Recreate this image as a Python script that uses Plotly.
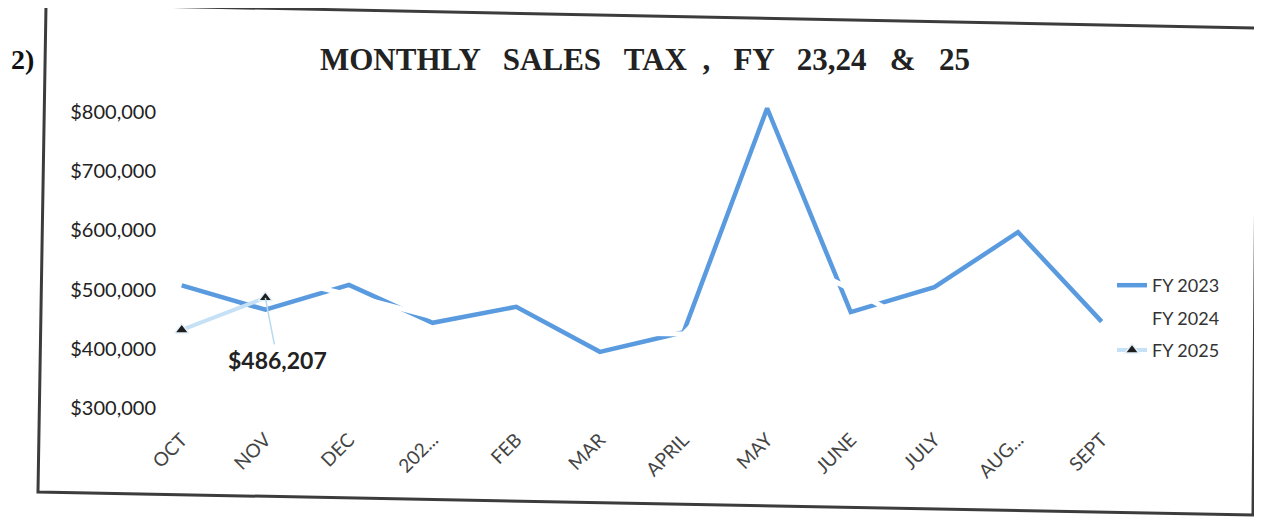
import plotly.graph_objects as go

months = ["OCT", "NOV", "DEC", "202...", "FEB", "MAR", "APRIL", "MAY", "JUNE", "JULY", "AUG...", "SEPT"]
fy2023 = [507000, 466000, 508000, 444000, 471000, 395000, 428000, 806000, 462000, 504000, 597000, 446000]
fy2024 = [536000, 525000, 491000, 454000, 491000, 427000, 425000, 567000, 501000, 423000, 460000, 431000]
fy2025 = [432000, 486207]
y_ticks = [300000, 400000, 500000, 600000, 700000, 800000]
label_text = "$486,207"

W, H = 1262, 517
OFF = 8  # page body margin
L, T = 165 - OFF, 94 - OFF
R = W - (1110 - OFF)
B = H - (420 - OFF)
pw, ph = W - L - R, H - T - B


def px(x):
    return (x - OFF - L) / pw


def py(y):
    return (H - B - (y - OFF)) / ph


fig = go.Figure()
fig.add_trace(go.Scatter(x=months, y=fy2023, name="FY 2023", mode="lines",
                         line=dict(color="#5a9be0", width=4.5), legendgroup="a"))
fig.add_trace(go.Scatter(x=months, y=fy2024, name="FY 2024", mode="lines",
                         line=dict(color="#ffffff", width=5), legendgroup="b"))
fig.add_trace(go.Scatter(x=months[:len(fy2025)], y=fy2025, name="FY 2025", mode="lines+markers",
                         line=dict(color="#c6e1f5", width=4),
                         marker=dict(symbol="triangle-up", size=12, color="#1e1e1e",
                                     line=dict(color="#e4f1fb", width=1.5)),
                         legendgroup="c"))

fig.add_annotation(x=months[1], y=fy2025[1], text=f"<b>{label_text}</b>", showarrow=True,
                   arrowhead=0, arrowwidth=1.5, arrowcolor="#b9d9ef", ax=12, ay=62,
                   font=dict(family="Lato", size=23, color="#222"))

# title and side label
fig.add_annotation(x=px(645), y=py(60), xref="paper", yref="paper", xanchor="center", yanchor="middle",
                   text="<b>MONTHLY   SALES   TAX  ,   FY   23,24   &amp;   25</b>", showarrow=False,
                   font=dict(family="Liberation Serif", size=31, color="#222"))
fig.add_annotation(x=px(22), y=py(60), xref="paper", yref="paper", xanchor="center", yanchor="middle",
                   text="<b>2)</b>", showarrow=False,
                   font=dict(family="Liberation Serif", size=28, color="#111"))

# frame
corners = [(46, 4), (1257, 28), (1253, 515), (38, 492)]
path = "M " + " L ".join(f"{px(x):.4f},{py(y):.4f}" for x, y in corners) + " Z"
fig.add_shape(type="path", path=path, xref="paper", yref="paper",
              line=dict(color="#3c3c3c", width=3))

fig.update_layout(
    width=W, height=H, margin=dict(l=L, r=R, t=T, b=B, autoexpand=False),
    paper_bgcolor="white", plot_bgcolor="white",
    showlegend=True,
    legend=dict(x=px(1112), y=py(318), xanchor="left", yanchor="middle",
                font=dict(family="Lato", size=18, color="#333"), tracegroupgap=6,
                bgcolor="rgba(0,0,0,0)"),
    xaxis=dict(range=[-0.2, 11.1], showgrid=False, showline=False, zeroline=False,
               tickangle=-45, ticklabelstandoff=4,
               tickfont=dict(family="Lato", size=19, color="#444")),
    yaxis=dict(range=[280000, 830000], tickvals=y_ticks, tickformat="$,.0f",
               showgrid=False, showline=False, zeroline=False, ticklabelstandoff=8,
               tickfont=dict(family="Lato", size=20, color="#222")),
)

fig.write_html("out.html")
